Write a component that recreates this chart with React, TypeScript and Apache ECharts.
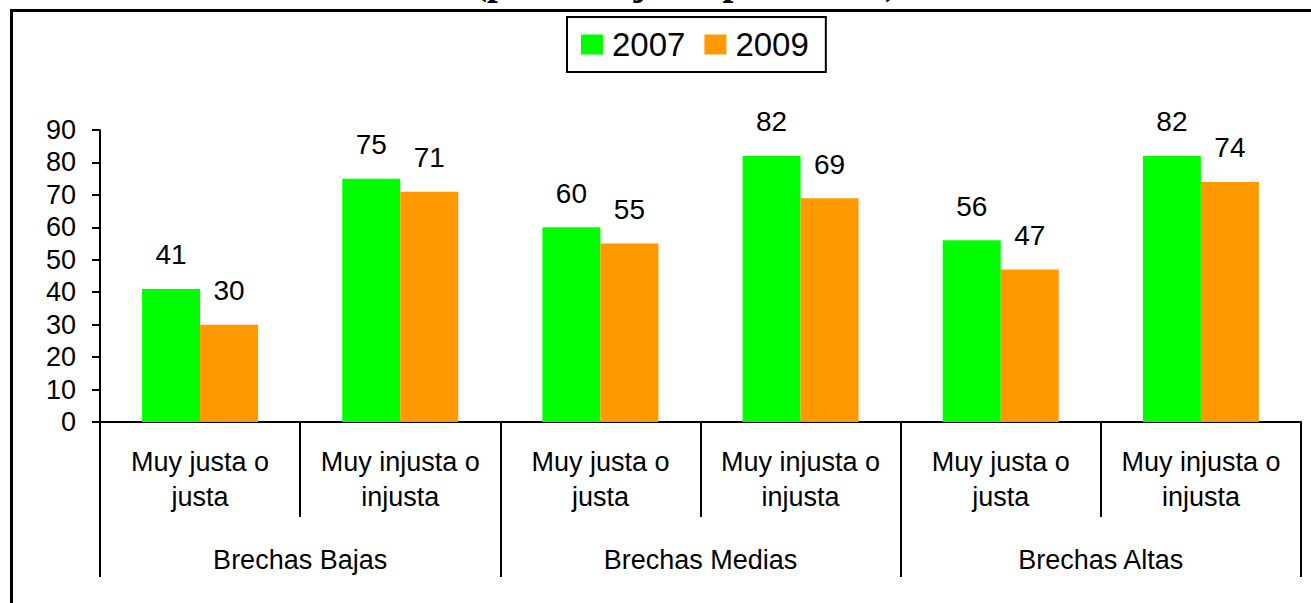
import React, { useEffect, useRef } from "react";
import * as echarts from "echarts";

const subCategories = [
  "Muy justa o\njusta",
  "Muy injusta o\ninjusta",
  "Muy justa o\njusta",
  "Muy injusta o\ninjusta",
  "Muy justa o\njusta",
  "Muy injusta o\ninjusta",
];
const groups = ["Brechas Bajas", "Brechas Medias", "Brechas Altas"];
const seriesNames = ["2007", "2009"];
const values2007 = [41, 75, 60, 82, 56, 82];
const values2009 = [30, 71, 55, 69, 47, 74];
const yTicks = { min: 0, max: 90, interval: 10 };
const titleText = "(porcentaje de población)";

const FONT = "'Liberation Sans', Arial, sans-serif";

export default function App() {
  const ref = useRef<HTMLDivElement>(null);
  useEffect(() => {
    document.body.style.margin = "0";
    const chart = echarts.init(ref.current!, undefined, { renderer: "svg" });
    const labelStyle = {
      show: true,
      position: "top" as const,
      distance: 20,
      fontSize: 28,
      color: "#000",
      fontFamily: FONT,
    };
    chart.setOption({
      animation: false,
      backgroundColor: "#fff",
      graphic: [
        {
          type: "rect",
          shape: { x: 11.5, y: 10.5, width: 1400, height: 700 },
          style: { fill: "none", stroke: "#000", lineWidth: 3 },
          z: -1,
        },
        {
          type: "text",
          x: 686,
          y: -20,
          style: {
            text: titleText,
            fontFamily: "'Liberation Serif', 'Times New Roman', serif",
            fontWeight: "bold",
            fontSize: 39,
            fill: "#000",
            align: "center",
            verticalAlign: "middle",
          },
        },
      ],
      legend: {
        data: seriesNames,
        left: 567,
        top: 17,
        padding: [11, 17, 11, 14],
        itemWidth: 22,
        itemHeight: 20,
        itemGap: 19,
        borderColor: "#000",
        borderWidth: 2,
        icon: "rect",
        textStyle: {
          fontSize: 33,
          color: "#000",
          fontFamily: FONT,
          padding: [0, 0, 0, 4],
        },
      },
      grid: { left: 100, right: 10, top: 130, bottom: 181 },
      xAxis: [
        {
          type: "category",
          position: "bottom",
          data: subCategories,
          axisLine: { lineStyle: { color: "#000", width: 2 } },
          axisTick: { show: true, interval: 0, length: 95, lineStyle: { color: "#000", width: 2 } },
          axisLabel: {
            interval: 0,
            margin: 22,
            fontSize: 27,
            lineHeight: 35,
            color: "#000",
            fontFamily: FONT,
          },
        },
        {
          type: "category",
          position: "bottom",
          offset: 0,
          data: groups,
          axisLine: { show: false },
          axisTick: { show: true, interval: 0, length: 155, lineStyle: { color: "#000", width: 2 } },
          axisLabel: {
            interval: 0,
            margin: 121,
            fontSize: 27,
            lineHeight: 34,
            color: "#000",
            fontFamily: FONT,
          },
        },
      ],
      yAxis: {
        type: "value",
        min: yTicks.min,
        max: yTicks.max,
        interval: yTicks.interval,
        splitLine: { show: false },
        axisLine: { show: true, lineStyle: { color: "#000", width: 2 } },
        axisTick: { show: true, length: 8, lineStyle: { color: "#000", width: 2 } },
        axisLabel: { margin: 24, fontSize: 27, color: "#000", fontFamily: FONT },
      },
      series: [
        {
          name: seriesNames[0],
          type: "bar",
          xAxisIndex: 0,
          data: values2007,
          barWidth: 58,
          barGap: "0%",
          itemStyle: { color: "#00FF00" },
          label: labelStyle,
        },
        {
          name: seriesNames[1],
          type: "bar",
          xAxisIndex: 0,
          data: values2009,
          barWidth: 58,
          barGap: "0%",
          itemStyle: { color: "#FF9900" },
          label: labelStyle,
        },
      ],
    });
    return () => chart.dispose();
  }, []);
  return (
    <div
      ref={ref}
      style={{ position: "absolute", left: 0, top: 0, width: 1311, height: 603 }}
    />
  );
}
